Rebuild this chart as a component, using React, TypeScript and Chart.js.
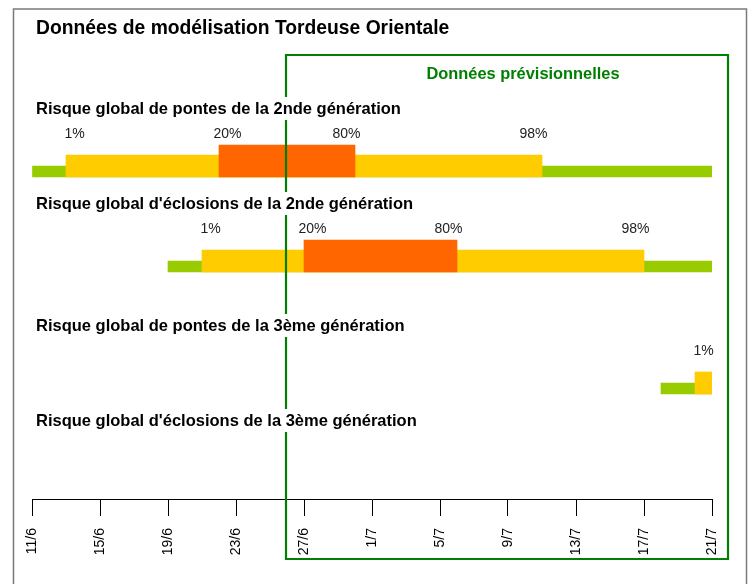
import React, { useEffect, useRef } from 'react';
import { Chart, registerables } from 'chart.js';

Chart.register(...registerables);

// ---------- data ----------
const TITLE = 'Données de modélisation Tordeuse Orientale';
const FORECAST_LABEL = 'Données prévisionnelles';
// x axis: days counted from 11/6
const TICK_DAYS = [0, 4, 8, 12, 16, 20, 24, 28, 32, 36, 40];
const TICK_LABELS = ['11/6', '15/6', '19/6', '23/6', '27/6', '1/7', '5/7', '9/7', '13/7', '17/7', '21/7'];
const X_MAX_DAY = 40;
const FORECAST_START_DAY = 15; // 26/6

const ROW_TITLES = [
  'Risque global de pontes de la 2nde génération',
  "Risque global d'éclosions de la 2nde génération",
  'Risque global de pontes de la 3ème génération',
  "Risque global d'éclosions de la 3ème génération",
];
// day (from 11/6) when each threshold is reached; null = not reached
const RISK_START_DAY: (number | null)[] = [0, 8, 37, null];
const RISK_END_DAY: (number | null)[] = [40, 40, 40, null];
const DAY_1PCT: (number | null)[] = [2, 10, 39, null];
const DAY_20PCT: (number | null)[] = [11, 16, null, null];
const DAY_80PCT: (number | null)[] = [18, 24, null, null];
const DAY_98PCT: (number | null)[] = [29, 35, null, null];
const PCT_LABELS = ['1%', '20%', '80%', '98%'];

// ---------- styles / layout ----------
const FONT = "'Liberation Sans', Arial, Helvetica, sans-serif";
const GREEN = '#99cc00';
const YELLOW = '#ffcc00';
const ORANGE = '#ff6600';
const FRAME_GREEN = '#008000';
const ROW_BOTTOM = [177, 272, 394, 489];
const T_GREEN = 11;
const T_YELLOW = 22;
const T_ORANGE = 32;

function buildData() {
  const green: any[] = [];
  const yellow: any[] = [];
  const orange: any[] = [];
  for (let i = 0; i < ROW_TITLES.length; i++) {
    const s = RISK_START_DAY[i];
    const e = RISK_END_DAY[i];
    if (s !== null && e !== null) green.push({ x: [s, e], y: ROW_BOTTOM[i] - T_GREEN / 2 });
    const p1 = DAY_1PCT[i];
    if (p1 !== null) {
      const p98 = DAY_98PCT[i];
      yellow.push({ x: [p1, p98 !== null ? p98 + 1 : (e as number)], y: ROW_BOTTOM[i] - T_YELLOW / 2 });
    }
    const p20 = DAY_20PCT[i];
    if (p20 !== null) {
      const p80 = DAY_80PCT[i];
      orange.push({ x: [p20, p80 !== null ? p80 + 1 : (e as number)], y: ROW_BOTTOM[i] - T_ORANGE / 2 });
    }
  }
  return { green, yellow, orange };
}

const decorPlugin = {
  id: 'decor',
  afterDraw(chart: any) {
    const ctx: CanvasRenderingContext2D = chart.ctx;
    const xs = chart.scales.x;
    ctx.save();
    // outer frame
    ctx.strokeStyle = '#7a7a7a';
    ctx.lineWidth = 1.5;
    ctx.strokeRect(13.5, 9, 733, 700);

    // main title
    ctx.fillStyle = '#000';
    ctx.textAlign = 'left';
    ctx.textBaseline = 'alphabetic';
    ctx.font = `bold 19.3px ${FONT}`;
    ctx.fillText(TITLE, 36, 34);

    // percent labels
    ctx.font = `14px ${FONT}`;
    ctx.fillStyle = '#222';
    ctx.textAlign = 'center';
    const pcts = [DAY_1PCT, DAY_20PCT, DAY_80PCT, DAY_98PCT];
    for (let i = 0; i < ROW_TITLES.length; i++) {
      pcts.forEach((arr, k) => {
        const d = arr[i];
        if (d !== null) ctx.fillText(PCT_LABELS[k], xs.getPixelForValue(d + 0.5), ROW_BOTTOM[i] - 39);
      });
    }

    // forecast frame
    const fx = xs.getPixelForValue(FORECAST_START_DAY) - 1;
    ctx.strokeStyle = FRAME_GREEN;
    ctx.lineWidth = 2.2;
    ctx.beginPath();
    ctx.moveTo(fx, 559);
    ctx.lineTo(fx, 55);
    ctx.lineTo(728, 55);
    ctx.lineTo(728, 559);
    ctx.closePath();
    ctx.stroke();
    ctx.fillStyle = FRAME_GREEN;
    ctx.font = `bold 16.4px ${FONT}`;
    ctx.textAlign = 'center';
    ctx.fillText(FORECAST_LABEL, 523, 79);

    // section titles with white background
    ctx.font = `bold 16.5px ${FONT}`;
    ctx.textAlign = 'left';
    for (let i = 0; i < ROW_TITLES.length; i++) {
      const base = ROW_BOTTOM[i] - 63;
      const w = ctx.measureText(ROW_TITLES[i]).width;
      ctx.fillStyle = '#fff';
      ctx.fillRect(34, base - 17, w + 4, 23);
      ctx.fillStyle = '#000';
      ctx.fillText(ROW_TITLES[i], 36, base);
    }
    ctx.restore();
  },
};

export default function App() {
  const ref = useRef<HTMLCanvasElement | null>(null);
  useEffect(() => {
    if (!ref.current) return;
    const { green, yellow, orange } = buildData();
    const chart = new Chart(ref.current, {
      type: 'bar',
      data: {
        datasets: [
          { label: 'green', data: green, backgroundColor: GREEN, barThickness: T_GREEN, order: 2, borderWidth: 0, grouped: false } as any,
          { label: 'yellow', data: yellow, backgroundColor: YELLOW, barThickness: T_YELLOW, order: 1, borderWidth: 0, grouped: false } as any,
          { label: 'orange', data: orange, backgroundColor: ORANGE, barThickness: T_ORANGE, order: 0, borderWidth: 0, grouped: false } as any,
        ],
      },
      options: {
        indexAxis: 'y',
        responsive: false,
        animation: false,
        devicePixelRatio: 1,
        layout: { padding: { left: 32, right: 38, top: 0, bottom: 0 } },
        plugins: { legend: { display: false }, tooltip: { enabled: false }, title: { display: false } },
        events: [],
        scales: {
          y: { type: 'linear', min: 0, max: 499, reverse: true, display: false, offset: false, grace: 0 },
          x: {
            type: 'linear',
            position: 'bottom',
            min: 0,
            max: X_MAX_DAY,
            offset: false,
            afterFit: (scale: any) => {
              scale.height = 85;
            },
            afterBuildTicks: (scale: any) => {
              scale.ticks = TICK_DAYS.map((v) => ({ value: v }));
            },
            border: { display: true, color: '#000', width: 1 },
            grid: { display: true, drawOnChartArea: false, drawTicks: true, tickLength: 17, color: '#000', lineWidth: 1, offset: false },
            ticks: {
              autoSkip: false,
              minRotation: 90,
              maxRotation: 90,
              padding: 12,
              color: '#000',
              font: { family: FONT, size: 14 },
              callback: (v: any) => TICK_LABELS[TICK_DAYS.indexOf(Number(v))] ?? '',
            },
          },
        },
      } as any,
      plugins: [decorPlugin],
    });
    return () => chart.destroy();
  }, []);
  return (
    <div style={{ position: 'fixed', left: 0, top: 0, width: 750, height: 584, background: '#fff' }}>
      <canvas ref={ref} width={750} height={584} style={{ display: 'block' }} />
    </div>
  );
}
